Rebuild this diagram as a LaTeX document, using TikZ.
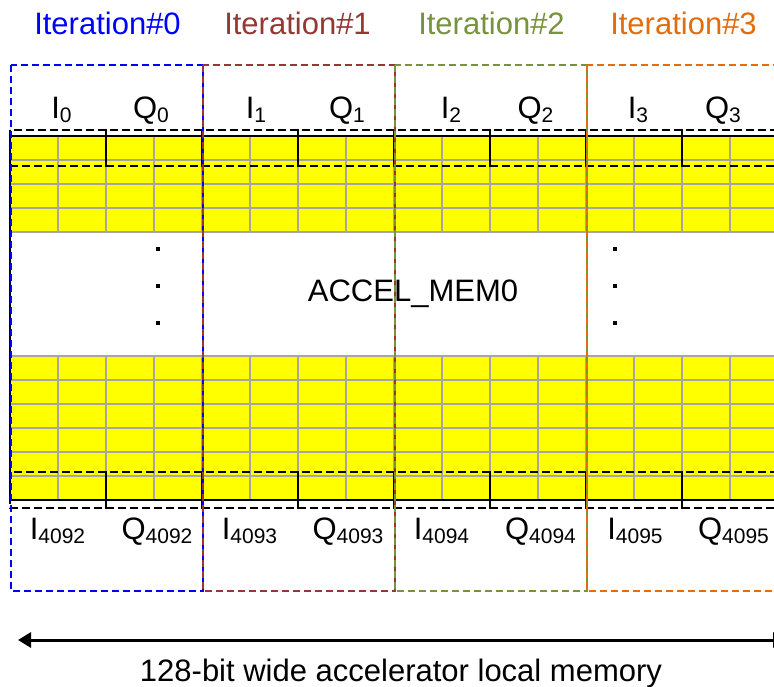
\documentclass[tikz,border=0pt]{standalone}
\usepackage{fontspec}
\setmainfont{Liberation Sans}
\usetikzlibrary{arrows.meta}
\definecolor{itblue}{HTML}{0000FF}
\definecolor{itred}{HTML}{953735}
\definecolor{itgreen}{HTML}{77933C}
\definecolor{itorange}{HTML}{E46C0A}
\definecolor{gridgrey}{HTML}{A6A6A6}
\definecolor{memyellow}{HTML}{FFFF00}
\newcommand{\sublbl}[2]{#1\raisebox{-4pt}{\fontsize{21}{21}\selectfont #2}}
\begin{document}
\begin{tikzpicture}[x=1pt,y=-1pt,
  txt/.style={inner sep=0pt,anchor=base,font=\fontsize{31}{36}\selectfont},
  gridline/.style={draw=gridgrey,line width=1.4pt},
  blkdash/.style={draw=black,line width=1.4pt,dash pattern=on 8pt off 4pt},
  itbox/.style={line width=1.4pt,dash pattern=on 7pt off 4pt},
  memedge/.style={draw=black,line width=1.5pt}]
\clip (0,0) rectangle (774,687);
\fill[white] (0,0) rectangle (774,687);
% yellow bands
\fill[memyellow] (10,136) rectangle (778,232);
\fill[memyellow] (10,356) rectangle (778,500);
% grid
\foreach \i in {0,...,16} {
  \draw[gridline] ({10+48*\i},136) -- ({10+48*\i},232);
  \draw[gridline] ({10+48*\i},356) -- ({10+48*\i},500);
}
\foreach \y in {160,184,208,232,356,380,404,428,452,476}
  \draw[gridline] (10,\y) -- (778,\y);
% memory outline
\draw[memedge] (778,136) -- (10,136) -- (10,500) -- (778,500);
% black dashed word boxes
\foreach \k in {0,...,7} {
  \draw[blkdash] ({10+96*\k},130) rectangle ({106+96*\k},166);
  \draw[blkdash] ({10+96*\k},472) rectangle ({106+96*\k},508);
}
% iteration boxes
\draw[itbox,itblue] (11,65) rectangle (203,591);
\draw[itbox,itred] (203,65) rectangle (395,591);
\draw[itbox,itgreen] (395,65) rectangle (587,591);
\draw[itbox,itorange] (587,65) rectangle (779,591);
% dots
\foreach \y in {249,286,323} {
  \fill (155.5,\y-2) rectangle ++(4,4);
  \fill (612.5,\y-2) rectangle ++(4,4);
}
% titles
\node[txt,text=itblue] (t0) at (107.5,35) {Iteration\#0};
\node[txt,text=itred] (t1) at (297.5,35) {Iteration\#1};
\node[txt,text=itgreen] (t2) at (491.5,35) {Iteration\#2};
\node[txt,text=itorange] (t3) at (683.5,35) {Iteration\#3};
% top labels
\node[txt] (i0) at (61.5,119) {\sublbl{I}{0}};
\node[txt] (q0) at (151,119) {\sublbl{Q}{0}};
\node[txt] (i1) at (256,119) {\sublbl{I}{1}};
\node[txt] (q1) at (347,119) {\sublbl{Q}{1}};
\node[txt] (i2) at (451,119) {\sublbl{I}{2}};
\node[txt] (q2) at (535.5,119) {\sublbl{Q}{2}};
\node[txt] (i3) at (638,119) {\sublbl{I}{3}};
\node[txt] (q3) at (723,119) {\sublbl{Q}{3}};
% bottom labels
\node[txt] (i4092) at (57.5,539) {\sublbl{I}{4092}};
\node[txt] (q4092) at (157,539) {\sublbl{Q}{4092}};
\node[txt] (i4093) at (249.5,539) {\sublbl{I}{4093}};
\node[txt] (q4093) at (348,539) {\sublbl{Q}{4093}};
\node[txt] (i4094) at (441.5,539) {\sublbl{I}{4094}};
\node[txt] (q4094) at (540.5,539) {\sublbl{Q}{4094}};
\node[txt] (i4095) at (635,539) {\sublbl{I}{4095}};
\node[txt] (q4095) at (733.5,539) {\sublbl{Q}{4095}};
% centre label
\node[txt] (mem) at (413,301.5) {ACCEL\_MEM0};
% width arrow
\coordinate (aL) at (18,640);
\coordinate (aR) at (786,640);
\draw[line width=3pt,{Triangle[length=13pt,width=15pt]}-{Triangle[length=13pt,width=15pt]}] (aL) -- (aR);
\node[txt] (cap) at (401,681.5) {128-bit wide accelerator local memory};
\end{tikzpicture}
\end{document}
